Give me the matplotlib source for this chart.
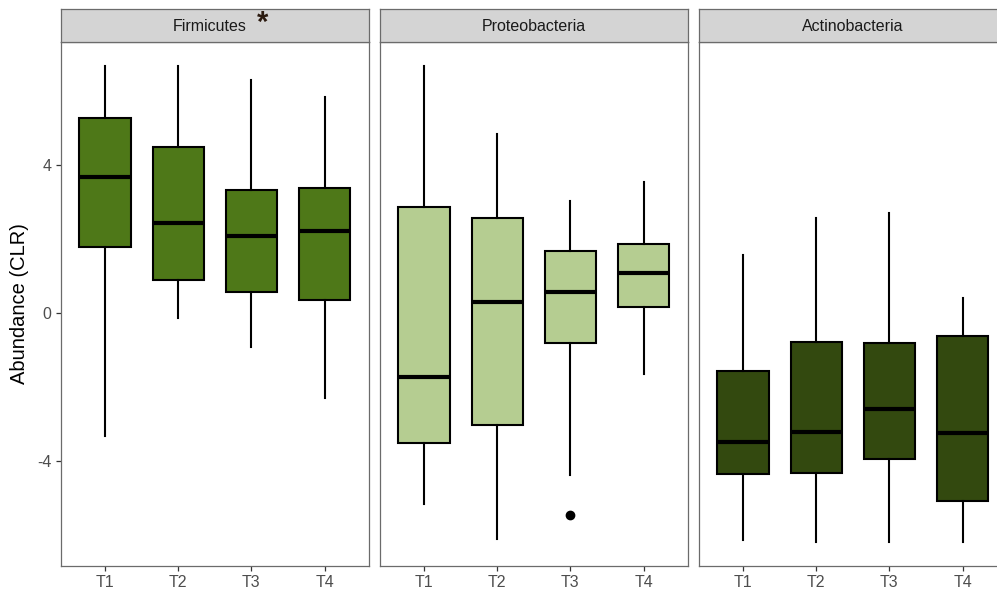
import numpy as np
import matplotlib.pyplot as plt

plt.rcParams['font.family'] = ['Liberation Sans', 'DejaVu Sans']
plt.rcParams['axes.unicode_minus'] = False

groups = ['T1', 'T2', 'T3', 'T4']
phyla = ['Firmicutes', 'Proteobacteria', 'Actinobacteria']
fills = ['#4e7818', '#b5cd91', '#33490f']

# five-number summaries per phylum (whisker low, Q1, median, Q3, whisker high)
firm_lo = [-3.33, -0.14, -0.91, -2.31]
firm_q1 = [1.80, 0.89, 0.57, 0.34]
firm_med = [3.68, 2.43, 2.08, 2.22]
firm_q3 = [5.30, 4.50, 3.33, 3.38]
firm_hi = [6.69, 6.69, 6.31, 5.85]

prot_lo = [-5.18, -6.13, -4.39, -1.65]
prot_q1 = [-3.53, -3.04, -0.82, 0.17]
prot_med = [-1.74, 0.31, 0.56, 1.08]
prot_q3 = [2.87, 2.57, 1.68, 1.86]
prot_hi = [6.69, 4.86, 3.04, 3.56]
prot_out = [[], [], [-5.48], []]

acti_lo = [-6.15, -6.21, -6.21, -6.21]
acti_q1 = [-4.36, -4.34, -3.95, -5.10]
acti_med = [-3.50, -3.22, -2.60, -3.26]
acti_q3 = [-1.57, -0.79, -0.81, -0.61]
acti_hi = [1.57, 2.57, 2.71, 0.40]

summaries = [
    (firm_lo, firm_q1, firm_med, firm_q3, firm_hi, [[], [], [], []]),
    (prot_lo, prot_q1, prot_med, prot_q3, prot_hi, prot_out),
    (acti_lo, acti_q1, acti_med, acti_q3, acti_hi, [[], [], [], []]),
]

W, H = 997, 589
fig = plt.figure(figsize=(W / 100, H / 100), dpi=100)
fig.patch.set_facecolor('white')

panel_left = [61, 380, 699]
panel_w = 307.6
top_px, bot_px, strip_top = 42.3, 565.7, 9.3
border = '#6b6b6b'

for k in range(3):
    lo, q1, med, q3, hi, out = summaries[k]
    x0 = panel_left[k] / W
    ax = fig.add_axes([x0, 1 - bot_px / H, panel_w / W, (bot_px - top_px) / H])
    stats = []
    for i in range(4):
        stats.append(dict(whislo=lo[i], q1=q1[i], med=med[i], q3=q3[i],
                          whishi=hi[i], fliers=out[i]))
    ax.bxp(stats, positions=[1, 2, 3, 4], widths=0.7, patch_artist=True,
           showcaps=False,
           boxprops=dict(facecolor=fills[k], edgecolor='black', linewidth=1.5),
           medianprops=dict(color='black', linewidth=3.0, solid_capstyle='butt'),
           whiskerprops=dict(color='black', linewidth=1.5),
           flierprops=dict(marker='o', markerfacecolor='black',
                           markeredgecolor='black', markersize=6))
    ax.set_xlim(0.4, 4.6)
    ax.set_ylim(-6.85, 7.34)
    ax.set_xticks([1, 2, 3, 4])
    ax.set_xticklabels(groups)
    ax.set_yticks([-4, 0, 4])
    for s in ax.spines.values():
        s.set_color(border)
        s.set_linewidth(0.9)
    ax.tick_params(colors='#333333', labelcolor='#4d4d4d', labelsize=11.5,
                   length=3.5, width=0.9)
    if k > 0:
        ax.tick_params(axis='y', left=False, labelleft=False)
    else:
        ax.set_ylabel('Abundance (CLR)', fontsize=14.5, color='black', labelpad=6)

    # facet strip
    sax = fig.add_axes([x0, 1 - top_px / H, panel_w / W, (top_px - strip_top) / H])
    sax.set_facecolor('#d4d4d4')
    sax.set_xticks([])
    sax.set_yticks([])
    for s in sax.spines.values():
        s.set_color(border)
        s.set_linewidth(0.9)
    tx = 0.484 if k == 0 else 0.5
    sax.text(tx, 0.47, phyla[k], ha='center', va='center', fontsize=11.5,
             color='#1a1a1a', transform=sax.transAxes)
    if k == 0:
        sax.text(0.655, 0.6, '*', ha='center', va='center', fontsize=21,
                 fontweight='bold', color='#2b1a0f', transform=sax.transAxes)

fig.savefig('out.png', dpi=100)
